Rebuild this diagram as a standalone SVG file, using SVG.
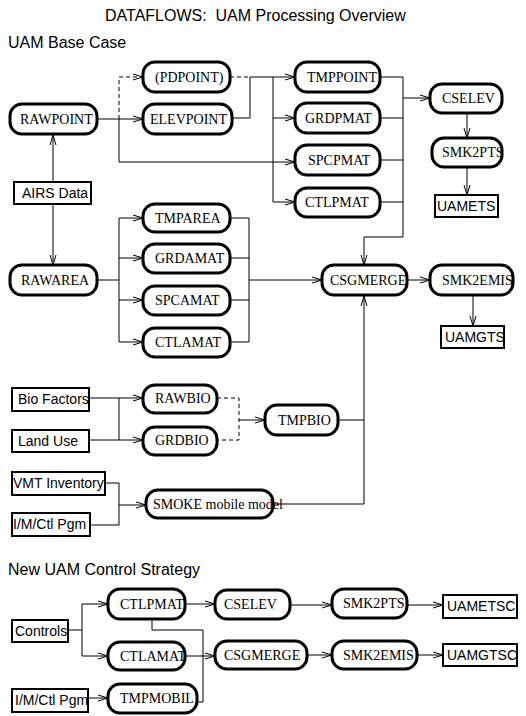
<svg xmlns="http://www.w3.org/2000/svg" width="526" height="716" viewBox="0 0 526 716">
<style>
.pill{fill:#fff;stroke:#000;stroke-width:3}
.box{fill:#fff;stroke:#000;stroke-width:2}
.pt{font-family:"Liberation Serif",serif;font-size:14px;fill:#000}
.bt{font-family:"Liberation Sans",sans-serif;font-size:14px;fill:#000}
.hd{font-family:"Liberation Sans",sans-serif;font-size:16px;fill:#000}
.ln{fill:none;stroke:#000;stroke-width:1}
.ds{fill:none;stroke:#000;stroke-width:1;stroke-dasharray:4,3}
</style>
<defs>
<marker id="ar" markerUnits="userSpaceOnUse" markerWidth="12" markerHeight="10" refX="10" refY="4" orient="auto">
<path d="M0,1 L10,4 L0,7" fill="none" stroke="#000" stroke-width="1"/>
</marker>
</defs>
<rect width="526" height="716" fill="#fff"/>
<text class="hd" x="105" y="21">DATAFLOWS:&#160; UAM Processing Overview</text>
<text class="hd" x="8" y="48">UAM Base Case</text>
<text class="hd" x="8" y="575">New UAM Control Strategy</text>

<g id="connectors">
<path class="ln" d="M97,119 H143" marker-end="url(#ar)"/>
<path class="ds" d="M119,119 V77 H143" marker-end="url(#ar)"/>
<path class="ln" d="M119,119 V162 H295" marker-end="url(#ar)"/>
<path class="ds" d="M230,77 H250"/>
<path class="ln" d="M232,118 H250 V77 H295" marker-end="url(#ar)"/>
<path class="ln" d="M273,77 V202 H295" marker-end="url(#ar)"/>
<path class="ln" d="M273,118 H295" marker-end="url(#ar)"/>
<path class="ln" d="M380,77 H403 V237 H364 V265" marker-end="url(#ar)"/>
<path class="ln" d="M380,118 H403 M380,160 H403 M380,202 H403"/>
<path class="ln" d="M403,98 H430" marker-end="url(#ar)"/>
<path class="ln" d="M467,113 V138" marker-end="url(#ar)"/>
<path class="ln" d="M467,167 V195" marker-end="url(#ar)"/>
<path class="ln" d="M53,182 V135" marker-end="url(#ar)"/>
<path class="ln" d="M53,204 V265" marker-end="url(#ar)"/>
<path class="ln" d="M97,280 H119 M119,218 V342"/>
<path class="ln" d="M119,218 H143" marker-end="url(#ar)"/>
<path class="ln" d="M119,258 H143" marker-end="url(#ar)"/>
<path class="ln" d="M119,300 H143" marker-end="url(#ar)"/>
<path class="ln" d="M119,342 H143" marker-end="url(#ar)"/>
<path class="ln" d="M230,218 H249 V342 H230 M230,258 H249 M230,300 H249"/>
<path class="ln" d="M249,280 H322" marker-end="url(#ar)"/>
<path class="ln" d="M407,280 H430" marker-end="url(#ar)"/>
<path class="ln" d="M473,296 V326" marker-end="url(#ar)"/>
<path class="ln" d="M89,398 H143" marker-end="url(#ar)"/>
<path class="ln" d="M89,440 H143" marker-end="url(#ar)"/>
<path class="ln" d="M119,398 V440"/>
<path class="ds" d="M217,398 H239 V440 H217"/>
<path class="ln" d="M239,420 H265" marker-end="url(#ar)"/>
<path class="ln" d="M338,420 H364 M273,504 H364"/>
<path class="ln" d="M364,504 V296" marker-end="url(#ar)"/>
<path class="ln" d="M105,483 H119 V525 H90"/>
<path class="ln" d="M119,505 H146" marker-end="url(#ar)"/>
<path class="ln" d="M68,630 H82 M82,604 V656"/>
<path class="ln" d="M82,604 H108" marker-end="url(#ar)"/>
<path class="ln" d="M82,656 H108" marker-end="url(#ar)"/>
<path class="ln" d="M88,698 H108" marker-end="url(#ar)"/>
<path class="ln" d="M185,604 H215" marker-end="url(#ar)"/>
<path class="ln" d="M152,619 V630 H203 V702 H197"/>
<path class="ln" d="M185,656 H215" marker-end="url(#ar)"/>
<path class="ln" d="M290,605 H332" marker-end="url(#ar)"/>
<path class="ln" d="M407,605 H443" marker-end="url(#ar)"/>
<path class="ln" d="M307,655 H332" marker-end="url(#ar)"/>
<path class="ln" d="M417,655 H443" marker-end="url(#ar)"/>
</g>

<g id="rawpoint"><rect class="pill" x="10" y="104" width="87" height="30" rx="12"/><text class="pt" x="20" y="124">RAWPOINT</text></g>
<g id="pdpoint"><rect class="pill" x="143" y="62" width="87" height="30" rx="12"/><text class="pt" x="155" y="82">(PDPOINT)</text></g>
<g id="elevpoint"><rect class="pill" x="143" y="104" width="89" height="30" rx="12"/><text class="pt" x="150" y="124">ELEVPOINT</text></g>
<g id="tmppoint"><rect class="pill" x="295" y="62" width="85" height="30" rx="12"/><text class="pt" x="307" y="82">TMPPOINT</text></g>
<g id="grdpmat"><rect class="pill" x="295" y="103" width="85" height="30" rx="12"/><text class="pt" x="305" y="123">GRDPMAT</text></g>
<g id="spcpmat"><rect class="pill" x="295" y="145" width="85" height="30" rx="12"/><text class="pt" x="308" y="165">SPCPMAT</text></g>
<g id="ctlpmat"><rect class="pill" x="295" y="188" width="85" height="29" rx="12"/><text class="pt" x="305" y="207">CTLPMAT</text></g>
<g id="cselev"><rect class="pill" x="430" y="84" width="72" height="29" rx="12"/><text class="pt" x="442" y="103">CSELEV</text></g>
<g id="smk2pts"><rect class="pill" x="432" y="138" width="70" height="29" rx="12"/><text class="pt" x="442" y="157">SMK2PTS</text></g>
<g id="uamets"><rect class="box" x="435" y="195" width="63" height="22"/><text class="bt" x="437" y="211">UAMETS</text></g>
<g id="airs"><rect class="box" x="14" y="182" width="77" height="22"/><text class="bt" x="22" y="198">AIRS Data</text></g>
<g id="rawarea"><rect class="pill" x="10" y="265" width="87" height="30" rx="12"/><text class="pt" x="21" y="285">RAWAREA</text></g>
<g id="tmparea"><rect class="pill" x="143" y="204" width="87" height="28" rx="12"/><text class="pt" x="155" y="223">TMPAREA</text></g>
<g id="grdamat"><rect class="pill" x="143" y="244" width="87" height="29" rx="12"/><text class="pt" x="155" y="263">GRDAMAT</text></g>
<g id="spcamat"><rect class="pill" x="143" y="286" width="87" height="29" rx="12"/><text class="pt" x="155" y="305">SPCAMAT</text></g>
<g id="ctlamat"><rect class="pill" x="143" y="328" width="87" height="29" rx="12"/><text class="pt" x="155" y="347">CTLAMAT</text></g>
<g id="csgmerge"><rect class="pill" x="322" y="265" width="85" height="30" rx="12"/><text class="pt" x="330" y="285">CSGMERGE</text></g>
<g id="smk2emis"><rect class="pill" x="430" y="265" width="83" height="30" rx="12"/><text class="pt" x="442" y="285">SMK2EMIS</text></g>
<g id="uamgts"><rect class="box" x="441" y="326" width="63" height="22"/><text class="bt" x="445" y="342">UAMGTS</text></g>
<g id="biofactors"><rect class="box" x="12" y="388" width="77" height="23"/><text class="bt" x="18" y="404">Bio Factors</text></g>
<g id="landuse"><rect class="box" x="12" y="430" width="77" height="22"/><text class="bt" x="18" y="446">Land Use</text></g>
<g id="rawbio"><rect class="pill" x="143" y="385" width="74" height="28" rx="12"/><text class="pt" x="155" y="403">RAWBIO</text></g>
<g id="grdbio"><rect class="pill" x="143" y="427" width="74" height="28" rx="12"/><text class="pt" x="155" y="445">GRDBIO</text></g>
<g id="tmpbio"><rect class="pill" x="265" y="405" width="73" height="30" rx="12"/><text class="pt" x="278" y="425">TMPBIO</text></g>
<g id="vmt"><rect class="box" x="12" y="472" width="93" height="23"/><text class="bt" x="13" y="488">VMT Inventory</text></g>
<g id="imctl"><rect class="box" x="12" y="513" width="78" height="23"/><text class="bt" x="13" y="529">I/M/Ctl Pgm</text></g>
<g id="smoke"><rect class="pill" x="146" y="490" width="127" height="28" rx="12"/><text class="pt" x="153" y="509">SMOKE mobile model</text></g>

<g id="controls"><rect class="box" x="12" y="620" width="56" height="22"/><text class="bt" x="15" y="636">Controls</text></g>
<g id="ctlpmat2"><rect class="pill" x="108" y="589" width="77" height="30" rx="12"/><text class="pt" x="120" y="609">CTLPMAT</text></g>
<g id="ctlamat2"><rect class="pill" x="108" y="642" width="77" height="28" rx="12"/><text class="pt" x="120" y="661">CTLAMAT</text></g>
<g id="imctl2"><rect class="box" x="12" y="689" width="76" height="23"/><text class="bt" x="15" y="705">I/M/Ctl Pgm</text></g>
<g id="tmpmobil"><rect class="pill" x="108" y="684" width="89" height="29" rx="12"/><text class="pt" x="120" y="703">TMPMOBIL</text></g>
<g id="cselev2"><rect class="pill" x="215" y="590" width="75" height="29" rx="12"/><text class="pt" x="224" y="609">CSELEV</text></g>
<g id="csgmerge2"><rect class="pill" x="215" y="641" width="92" height="28" rx="12"/><text class="pt" x="224" y="660">CSGMERGE</text></g>
<g id="smk2pts2"><rect class="pill" x="332" y="589" width="75" height="29" rx="12"/><text class="pt" x="343" y="608">SMK2PTS</text></g>
<g id="smk2emis2"><rect class="pill" x="332" y="641" width="85" height="28" rx="12"/><text class="pt" x="343" y="660">SMK2EMIS</text></g>
<g id="uametsc"><rect class="box" x="443" y="595" width="74" height="23"/><text class="bt" x="447" y="611">UAMETSC</text></g>
<g id="uamgtsc"><rect class="box" x="443" y="644" width="74" height="22"/><text class="bt" x="447" y="660">UAMGTSC</text></g>
</svg>
